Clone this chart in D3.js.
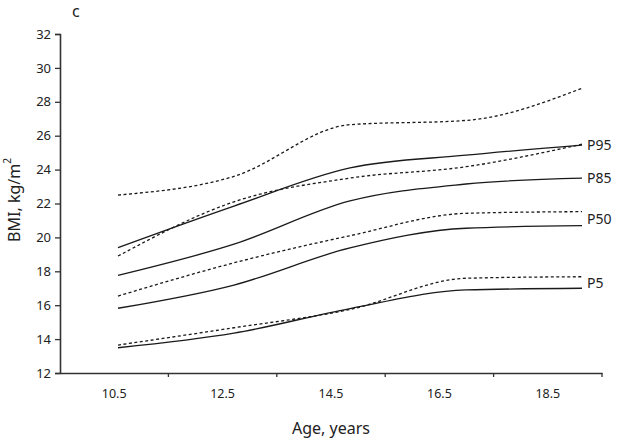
<!DOCTYPE html>
<html><head><meta charset="utf-8">
<script src="https://cdn.jsdelivr.net/npm/d3@7"></script>
<style>body{margin:0;background:#fff}svg{display:block}text{font-family:"Noto Sans","Open Sans",sans-serif;fill:#222}</style>
</head><body>
<script>
const categories = ["10.5", "12.5", "14.5", "16.5", "18.5"];
const yTicks = [12, 14, 16, 18, 20, 22, 24, 26, 28, 30, 32];
const solidP95 = [19.4, 21.85, 24.1, 24.85, 25.45];
const solidP85 = [17.76, 19.6, 22.15, 23.15, 23.5];
const solidP50 = [15.82, 17.19, 19.38, 20.54, 20.69];
const solidP5  = [13.49, 14.35, 15.8, 16.9, 17.0];
const refP95 = [22.5, 23.6, 26.65, 26.9, 28.8];
const refP85 = [18.9, 22.1, 23.5, 24.17, 25.5];
const refP50 = [16.54, 18.5, 20.1, 21.42, 21.52];
const refP5  = [13.65, 14.67, 15.75, 17.59, 17.68];
const labels = ["P95", "P85", "P50", "P5"];
const labelValues = [25.45, 23.5, 21.1, 17.3];

const W = 640, H = 439;
const svg = d3.select("body").append("svg").attr("width", W).attr("height", H);
const y = d3.scaleLinear().domain([12, 32]).range([373, 34]);
const xBand = d3.scaleBand().domain(categories).range([60, 602]);
const xPt = d3.scalePoint().domain(categories).range([118, 582]);

// axes
const yAxis = svg.append("g").attr("transform", "translate(60,0)")
  .call(d3.axisLeft(y).tickValues(yTicks).tickSize(5).tickPadding(4));
yAxis.select(".domain").attr("stroke", "#333").attr("stroke-width", 1.6);
yAxis.selectAll(".tick line").attr("stroke", "#333").attr("stroke-width", 1.3);
yAxis.selectAll("text").attr("font-size", 13).attr("fill", "#222").style("font-family", "'Noto Sans',sans-serif");

const xAxis = svg.append("g").attr("transform", "translate(0,373)")
  .call(d3.axisBottom(xBand).tickSize(0).tickPadding(16).tickSizeOuter(0));
xAxis.select(".domain").attr("stroke", "#333").attr("stroke-width", 1.6);
xAxis.selectAll("text").attr("font-size", 12.5).attr("fill", "#222").style("font-family", "'Noto Sans',sans-serif");
// tick marks at band boundaries
svg.append("g").selectAll("line").data(categories).join("line")
  .attr("x1", d => xBand(d) + xBand.bandwidth()).attr("x2", d => xBand(d) + xBand.bandwidth())
  .attr("y1", 373).attr("y2", 377).attr("stroke", "#333").attr("stroke-width", 1.3);

// lines
const line = d3.line().x((d, i) => xPt(categories[i])).y(d => y(d)).curve(d3.curveMonotoneX);
const series = [
  {v: solidP95, dash: null}, {v: solidP85, dash: null}, {v: solidP50, dash: null}, {v: solidP5, dash: null},
  {v: refP95, dash: "3,2.5"}, {v: refP85, dash: "3,2.5"}, {v: refP50, dash: "3,2.5"}, {v: refP5, dash: "3,2.5"}
];
svg.append("g").selectAll("path").data(series).join("path")
  .attr("d", d => line(d.v)).attr("fill", "none").attr("stroke", "#1a1a1a")
  .attr("stroke-width", 1.3).attr("stroke-dasharray", d => d.dash);

// right labels
svg.append("g").selectAll("text").data(labels).join("text")
  .attr("x", 587).attr("y", (d, i) => y(labelValues[i])).attr("dy", "0.35em")
  .attr("font-size", 14).text(d => d);

// axis titles
svg.append("text").attr("x", 331).attr("y", 434).attr("text-anchor", "middle")
  .attr("font-size", 16).text("Age, years");
const yl = svg.append("text").attr("transform", "translate(20,200) rotate(-90)")
  .attr("text-anchor", "middle").attr("font-size", 16);
yl.append("tspan").text("BMI, kg/m");
yl.append("tspan").attr("font-size", 10).attr("dy", "-0.9em").text("2");

svg.append("text").attr("x", 72).attr("y", 17).attr("font-size", 16).text("c");
</script>
</body></html>
